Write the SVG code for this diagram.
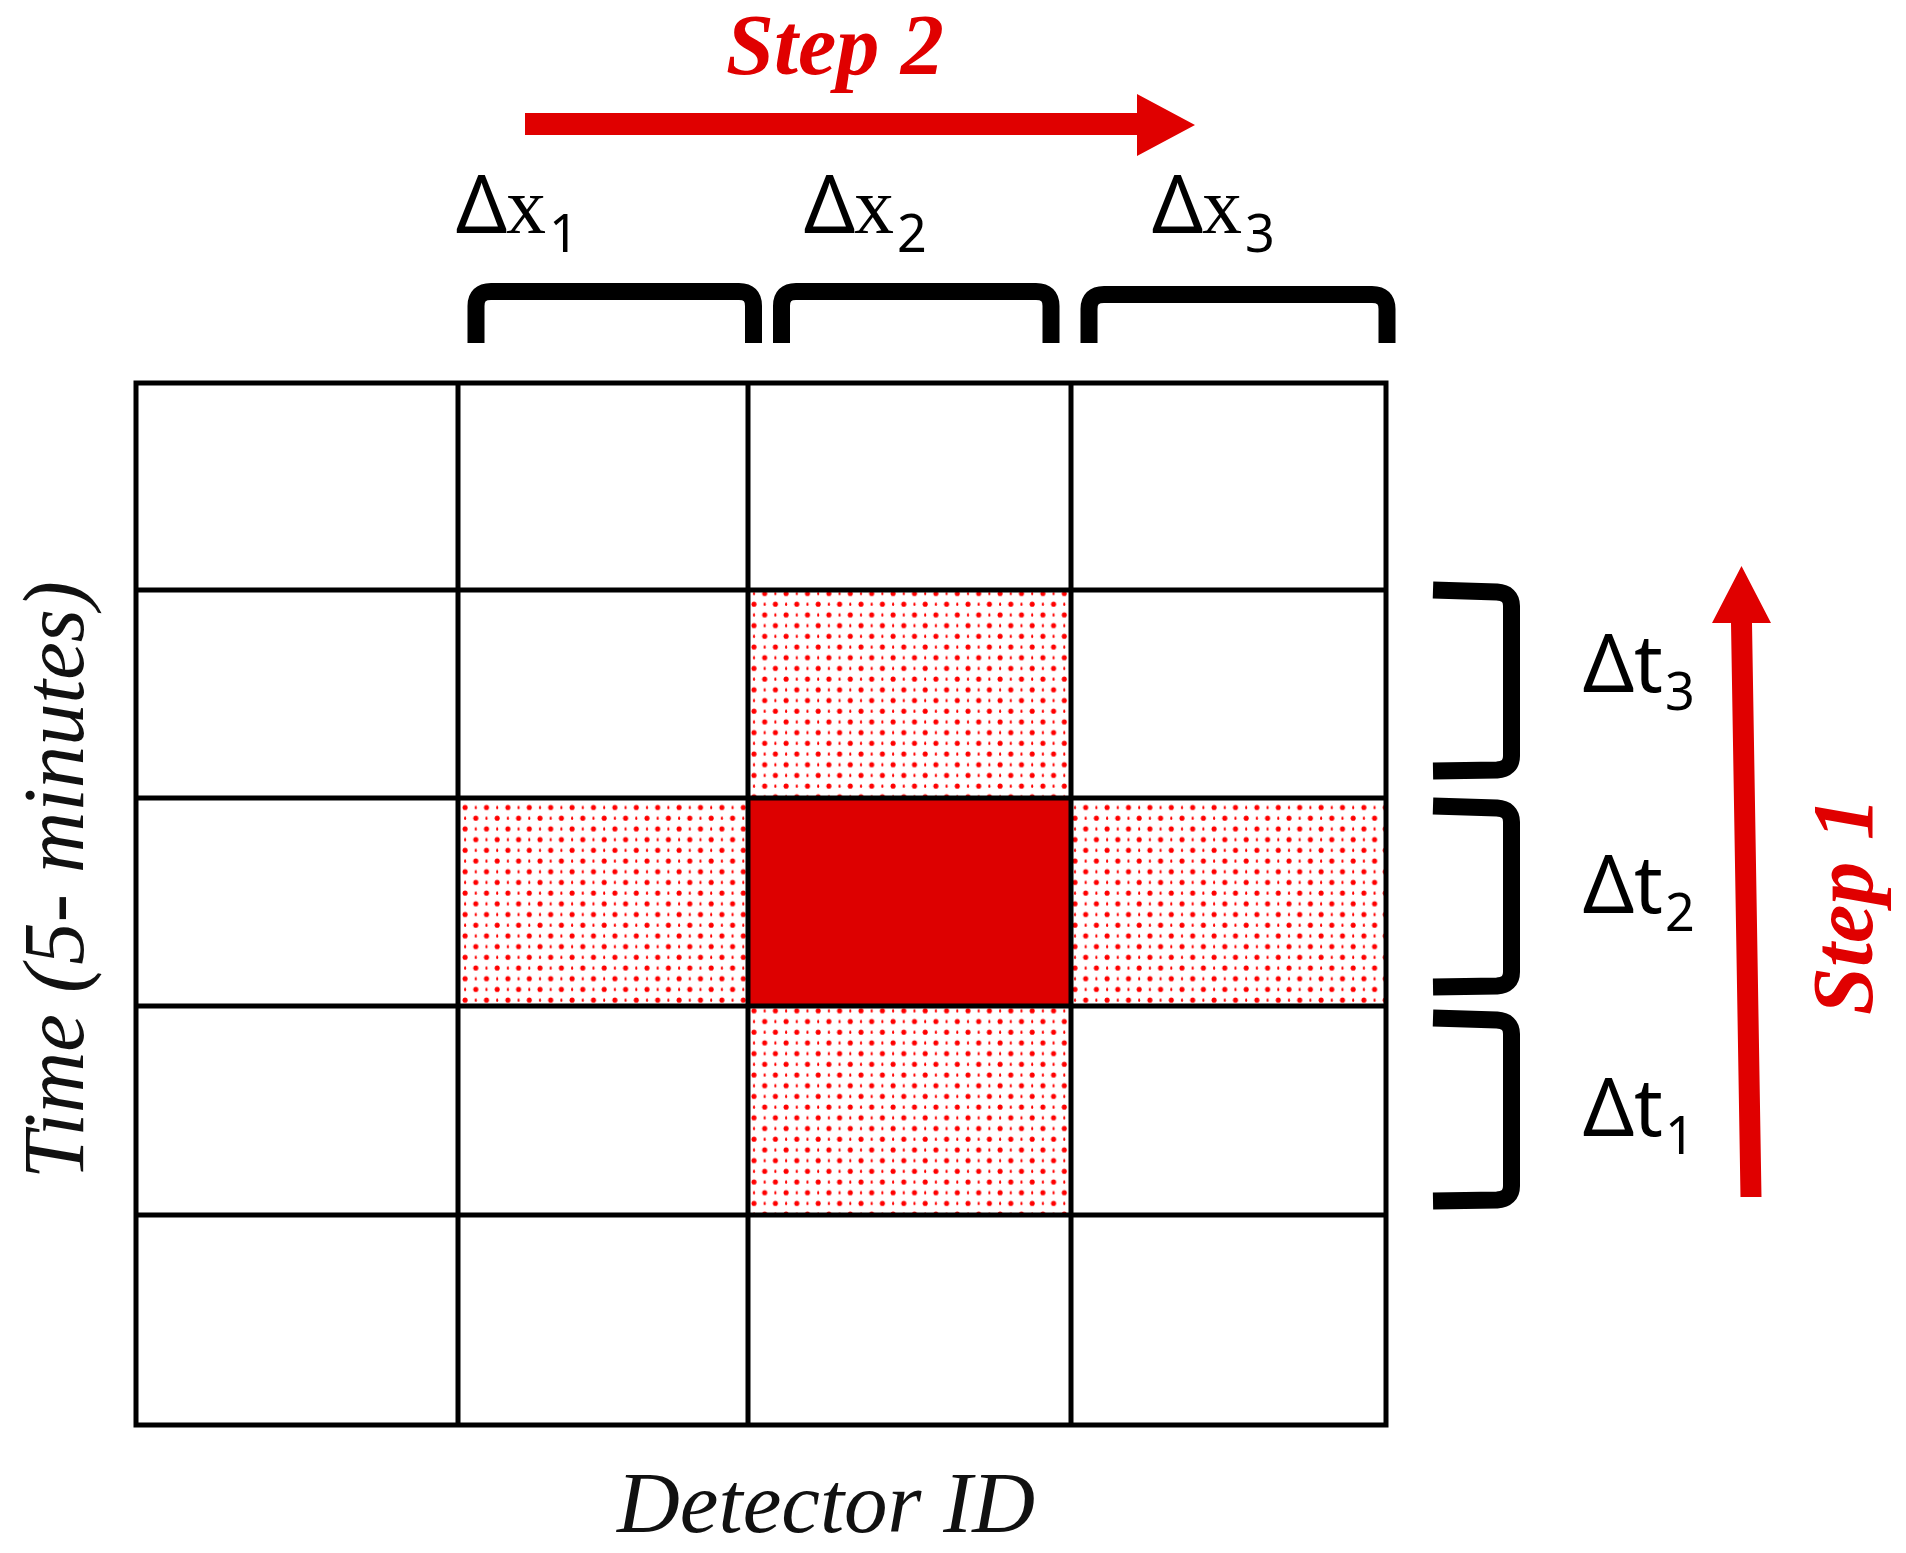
<svg xmlns="http://www.w3.org/2000/svg" width="1906" height="1553" viewBox="0 0 1906 1553">
  <style>
    .grid { stroke: #000; stroke-width: 5; fill: none; }
    .cell { stroke: none; }
    .brk { stroke: #000; stroke-width: 17; fill: none; stroke-linecap: butt; stroke-linejoin: round; }
    .arrow { fill: #E00000; stroke: none; }
    .red { fill: #E00000; font-family: "Liberation Serif", "Times New Roman", serif; font-weight: bold; font-style: italic; font-size: 86px; }
    .axis { fill: #111; font-family: "Liberation Serif", "Times New Roman", serif; font-style: italic; font-size: 86px; }
    .dsym { font-family: "Noto Sans", "DejaVu Sans", sans-serif; font-size: 80px; fill: #000; }
    .dx { font-family: "Liberation Serif", serif; font-size: 80px; fill: #000; }
    .sub { font-family: "Noto Sans", "DejaVu Sans", sans-serif; font-size: 52px; fill: #000; }
  </style>
  <defs>
    <pattern id="dots" patternUnits="userSpaceOnUse" width="21.4" height="21.4">
      <circle cx="5" cy="5" r="2.5" fill="#FF0000"/>
      <circle cx="15.7" cy="15.7" r="2.5" fill="#FF0000"/>
      <ellipse cx="15.7" cy="5" rx="1" ry="1.8" fill="#FF0000"/>
      <ellipse cx="5" cy="15.7" rx="1" ry="1.8" fill="#FF0000"/>
    </pattern>
  </defs>
  <rect width="1906" height="1553" fill="#fff"/>

  <g id="cells">
    <rect id="cell-c3r2" class="cell" x="748" y="590" width="323" height="208" fill="url(#dots)"/>
    <rect id="cell-c2r3" class="cell" x="458" y="798" width="290" height="208" fill="url(#dots)"/>
    <rect id="cell-c4r3" class="cell" x="1071" y="798" width="315" height="208" fill="url(#dots)"/>
    <rect id="cell-c3r4" class="cell" x="748" y="1006" width="323" height="209" fill="url(#dots)"/>
    <rect id="cell-center" class="cell" x="748" y="798" width="323" height="208" fill="#DD0000"/>
  </g>

  <g id="grid" class="grid">
    <rect x="136" y="383" width="1250" height="1042"/>
    <line x1="458" y1="383" x2="458" y2="1425"/>
    <line x1="748" y1="383" x2="748" y2="1425"/>
    <line x1="1071" y1="383" x2="1071" y2="1425"/>
    <line x1="136" y1="590" x2="1386" y2="590"/>
    <line x1="136" y1="798" x2="1386" y2="798"/>
    <line x1="136" y1="1006" x2="1386" y2="1006"/>
    <line x1="136" y1="1215" x2="1386" y2="1215"/>
  </g>

  <g id="brackets-x">
    <path id="bracket-x1" class="brk" d="M476,343 L476,306 Q476,291.5 491,291.5 L739,291.5 Q753.5,291.5 753.5,306 L753.5,343"/>
    <path id="bracket-x2" class="brk" d="M781.5,343 L781.5,306 Q781.5,291.5 796,291.5 L1036,291.5 Q1051,291.5 1051,306 L1051,343"/>
    <path id="bracket-x3" class="brk" d="M1089,343 L1089,309 Q1089,294.5 1104,294.5 L1372,294.5 Q1387,294.5 1387,309 L1387,343"/>
  </g>

  <g id="brackets-t">
    <path id="bracket-t3" class="brk" d="M1433,590 L1497,592 Q1511.5,593 1511.5,606 L1511.5,756 Q1511.5,769 1497,770 L1433,771"/>
    <path id="bracket-t2" class="brk" d="M1433,806 L1497,808 Q1511.5,809 1511.5,822 L1511.5,972 Q1511.5,985 1497,986 L1433,987"/>
    <path id="bracket-t1" class="brk" d="M1433,1018 L1497,1020 Q1511.5,1021 1511.5,1034 L1511.5,1186 Q1511.5,1199 1497,1200 L1433,1201"/>
  </g>

  <g id="labels-x">
    <text id="dx1"><tspan class="dsym" x="456" y="233">Δ</tspan><tspan class="dx" x="506" y="233">x</tspan><tspan class="sub" x="549" y="252">1</tspan></text>
    <text id="dx2"><tspan class="dsym" x="804" y="233">Δ</tspan><tspan class="dx" x="854" y="233">x</tspan><tspan class="sub" x="897" y="252">2</tspan></text>
    <text id="dx3"><tspan class="dsym" x="1152" y="233">Δ</tspan><tspan class="dx" x="1202" y="233">x</tspan><tspan class="sub" x="1245" y="252">3</tspan></text>
  </g>

  <g id="labels-t">
    <text id="dt3"><tspan class="dsym" x="1583" y="692">Δt</tspan><tspan class="sub" x="1665" y="710">3</tspan></text>
    <text id="dt2"><tspan class="dsym" x="1583" y="913">Δt</tspan><tspan class="sub" x="1665" y="931">2</tspan></text>
    <text id="dt1"><tspan class="dsym" x="1583" y="1136">Δt</tspan><tspan class="sub" x="1665" y="1154">1</tspan></text>
  </g>

  <g id="connectors">
    <polygon id="arrow-step2" class="arrow" points="525,113 1137,113 1137,94 1195,125 1137,156 1137,135 525,135"/>
    <polygon id="arrow-step1" class="arrow" points="1761.5,1197 1740.5,1197 1731,623 1712,623 1741.5,566 1771,623 1752,623"/>
  </g>

  <g id="titles">
    <text id="step2" class="red" x="835" y="74" text-anchor="middle" font-size="82" textLength="218" lengthAdjust="spacingAndGlyphs">Step 2</text>
    <text id="step1" class="red" transform="translate(1872,906) rotate(-90)" x="0" y="0" text-anchor="middle" textLength="218" lengthAdjust="spacingAndGlyphs">Step 1</text>
    <text id="time-label" class="axis" transform="translate(83,880) rotate(-90)" x="0" y="0" text-anchor="middle" font-size="88" textLength="598" lengthAdjust="spacingAndGlyphs">Time (5- minutes)</text>
    <text id="detector-label" class="axis" x="826" y="1532" text-anchor="middle" textLength="418" lengthAdjust="spacingAndGlyphs">Detector ID</text>
  </g>
</svg>
